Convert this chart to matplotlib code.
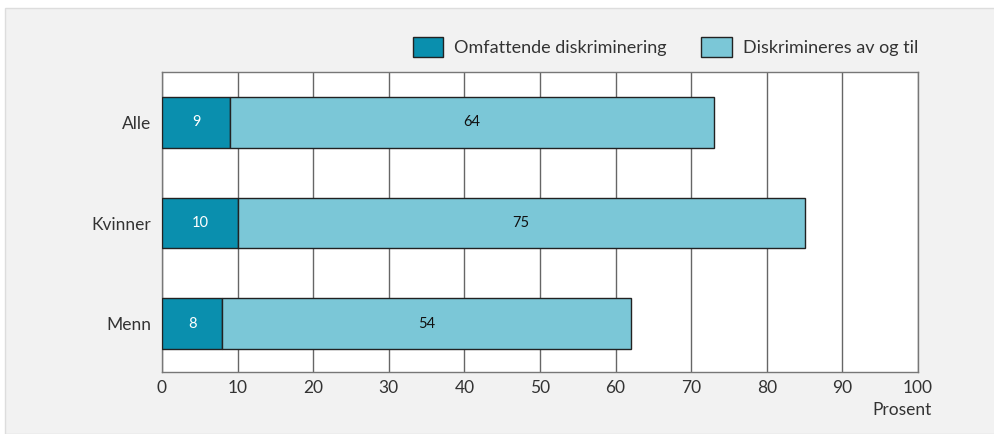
import matplotlib
matplotlib.use("Agg")
import matplotlib.pyplot as plt
from matplotlib.patches import Rectangle, Patch

categories = ["Alle", "Kvinner", "Menn"]
omfattende = [9, 10, 8]
av_og_til = [64, 75, 54]
series_names = ["Omfattende diskriminering", "Diskrimineres av og til"]
xticks = [0, 10, 20, 30, 40, 50, 60, 70, 80, 90, 100]

plt.rcParams['font.family'] = ['Lato', 'DejaVu Sans']

dark = "#0a8fae"
light = "#7bc7d7"

fig = plt.figure(figsize=(9.95, 4.34), dpi=100, facecolor="white")
bg = Rectangle((5/995, 0), 1, 1 - 8/434, transform=fig.transFigure,
               facecolor="#f2f2f2", edgecolor="#dddddd", lw=1, zorder=-10)
fig.patches.append(bg)

ax = fig.add_axes([162/995, 1 - 372/434, (918 - 162)/995, (372 - 72)/434])
ax.set_facecolor("white")

y = list(range(len(categories)))
h = 0.505
ax.barh(y, omfattende, height=h, color=dark, edgecolor="#222222", lw=1, zorder=3)
ax.barh(y, av_og_til, left=omfattende, height=h, color=light, edgecolor="#222222", lw=1, zorder=3)

for i in y:
    ax.text(omfattende[i] / 2, i, str(omfattende[i]), ha="center", va="center",
            color="white", fontsize=10.5, zorder=4)
    ax.text(omfattende[i] + av_og_til[i] / 2, i, str(av_og_til[i]), ha="center", va="center",
            color="#111111", fontsize=10.5, zorder=4)

ax.set_xlim(0, 100)
ax.set_ylim(2.48, -0.5)
ax.set_xticks(xticks)
ax.set_xticklabels([str(t) for t in xticks], fontsize=12.5, color="#333333")
ax.set_yticks(y)
ax.set_yticklabels(categories, fontsize=12.5, color="#333333")
ax.tick_params(axis="both", length=0, pad=8)
ax.tick_params(axis="x", pad=6)
ax.grid(axis="x", color="#666666", lw=1, zorder=1)
ax.set_axisbelow(True)
for s in ax.spines.values():
    s.set_color("#777777")
    s.set_linewidth(1)

fig.text(932/995, 1 - 410/434, "Prosent", ha="right", va="center", fontsize=12.5, color="#333333")

handles = [Patch(facecolor=dark, edgecolor="#222222", lw=1),
           Patch(facecolor=light, edgecolor="#222222", lw=1)]
fig.legend(handles, series_names, loc="center right", bbox_to_anchor=(927/995, 1 - 47/434),
           ncol=2, frameon=False, fontsize=13, handlelength=1.7, handleheight=1.4,
           handletextpad=0.6, columnspacing=1.9, labelcolor="#333333", borderpad=0)

fig.savefig("out.png", dpi=100, facecolor=fig.get_facecolor())
